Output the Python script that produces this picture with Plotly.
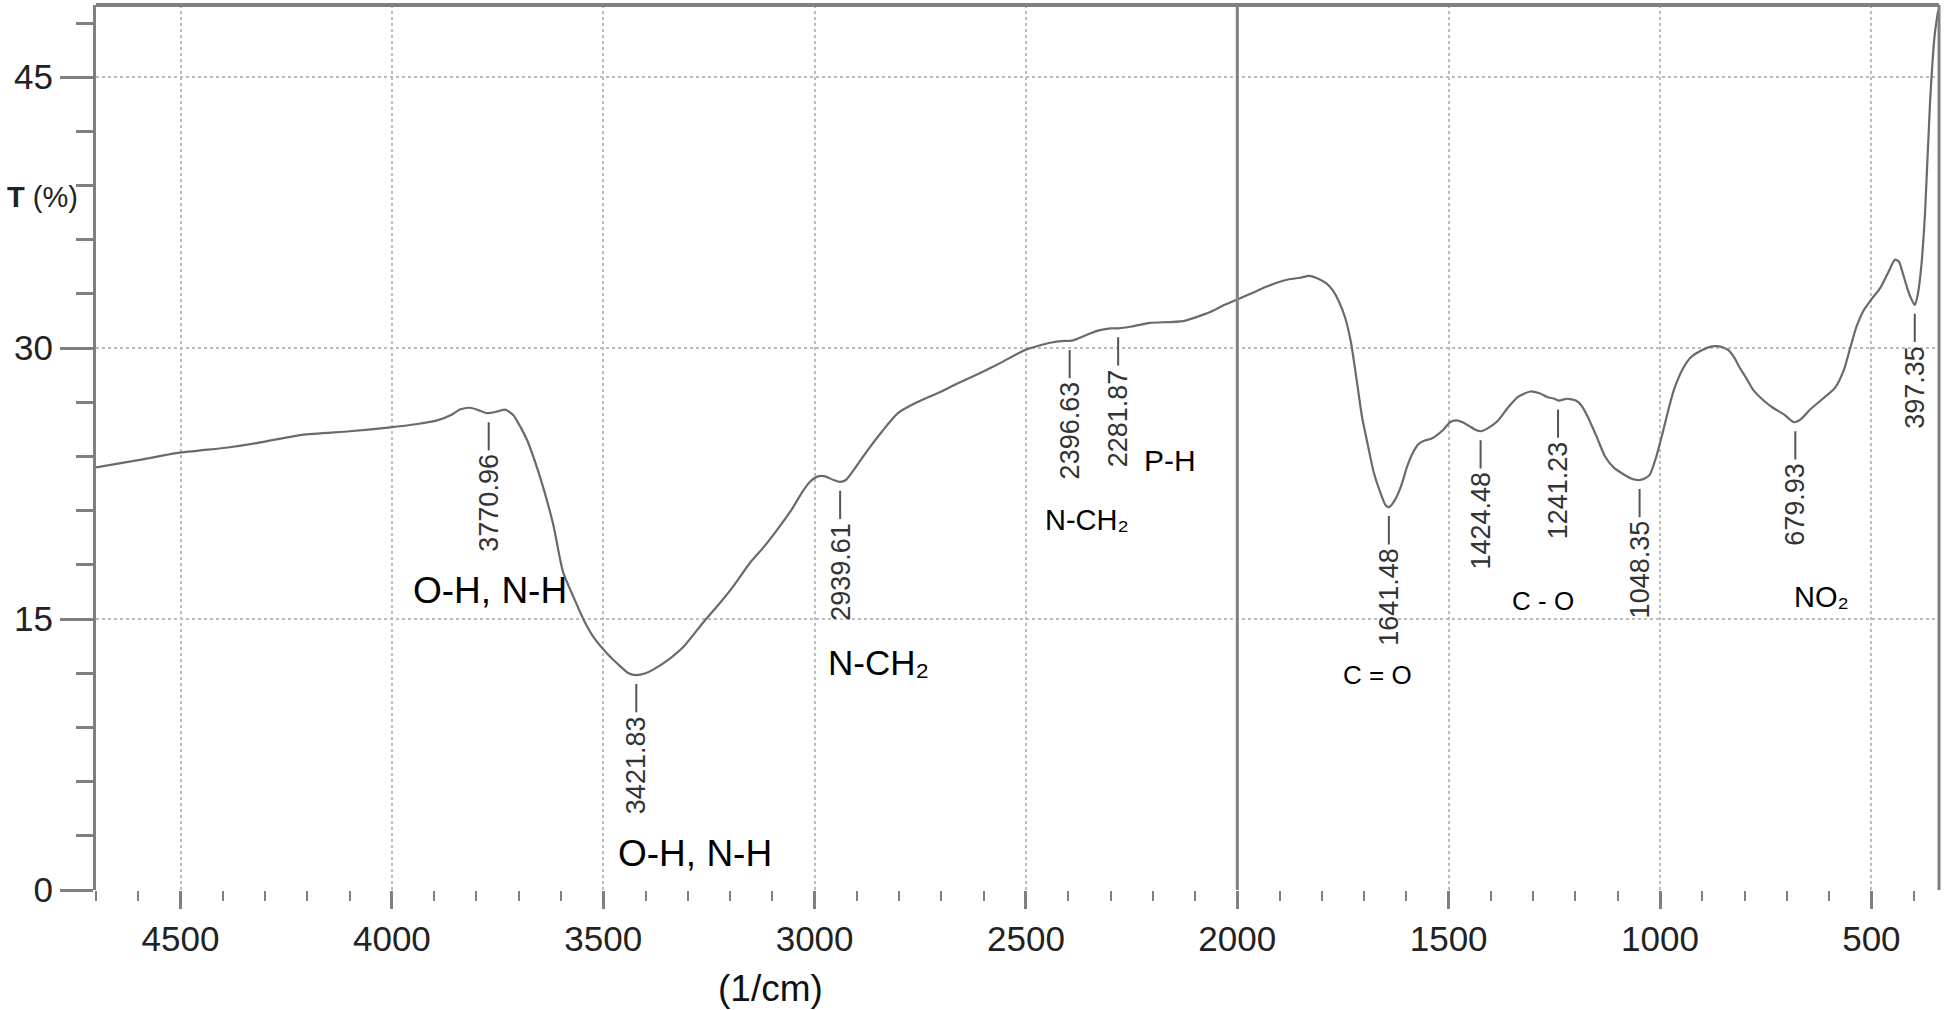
import plotly.graph_objects as go

# ---------------- data ----------------
wavenumber = [4700, 4600, 4506, 4388, 4331, 4213, 4100, 4009, 3940, 3893, 3860, 3839, 3815, 3799,
              3775, 3750, 3732, 3713, 3695, 3680, 3650, 3619, 3595, 3570, 3545, 3520, 3491, 3465,
              3440, 3422, 3400, 3382, 3349, 3309, 3264, 3220, 3193, 3150, 3120, 3090, 3056, 3030,
              3011, 2992, 2975, 2955, 2940, 2926, 2900, 2876, 2840, 2803, 2758, 2700, 2666, 2602,
              2559, 2502, 2443, 2410, 2397, 2380, 2350, 2325, 2300, 2282, 2250, 2207, 2128, 2064,
              2030, 2000, 1960, 1932, 1880, 1852, 1830, 1814, 1790, 1774, 1760, 1745, 1731, 1718,
              1705, 1690, 1677, 1660, 1649, 1641, 1627, 1612, 1599, 1585, 1571, 1555, 1540, 1512,
              1497, 1482, 1467, 1452, 1438, 1424, 1405, 1383, 1360, 1336, 1307, 1285, 1267, 1250,
              1239, 1220, 1199, 1185, 1171, 1150, 1130, 1110, 1092, 1070, 1054, 1048, 1035, 1024,
              1010, 995, 980, 967, 945, 927, 900, 877, 860, 839, 825, 811, 795, 780, 755, 733, 705,
              683, 665, 645, 615, 586, 565, 549, 535, 518, 500, 480, 462, 444, 435, 425, 412, 403,
              397, 390, 382, 373, 361, 350, 342]
transmittance = [23.4, 23.8, 24.2, 24.5, 24.7, 25.2, 25.4, 25.6, 25.8, 26.0, 26.3, 26.6, 26.7, 26.6,
                 26.4, 26.5, 26.6, 26.3, 25.6, 24.9, 22.9, 20.3, 17.6, 16.2, 14.9, 13.9, 13.1, 12.5,
                 12.0, 11.9, 12.0, 12.2, 12.7, 13.5, 14.8, 16.0, 16.8, 18.2, 19.0, 19.9, 21.0, 22.0,
                 22.6, 22.9, 22.9, 22.7, 22.6, 22.7, 23.5, 24.3, 25.4, 26.4, 27.0, 27.6, 28.0, 28.7,
                 29.2, 29.9, 30.3, 30.4, 30.4, 30.5, 30.8, 31.0, 31.1, 31.1, 31.2, 31.4, 31.5, 32.0,
                 32.4, 32.7, 33.1, 33.4, 33.8, 33.9, 34.0, 33.9, 33.6, 33.2, 32.6, 31.7, 30.3, 28.3,
                 26.2, 24.5, 23.1, 21.9, 21.3, 21.2, 21.6, 22.4, 23.4, 24.2, 24.7, 24.9, 25.0, 25.5,
                 25.9, 26.0, 25.9, 25.7, 25.5, 25.4, 25.6, 26.0, 26.7, 27.3, 27.6, 27.5, 27.3, 27.2,
                 27.1, 27.2, 27.1, 26.8, 26.2, 25.1, 24.0, 23.4, 23.1, 22.8, 22.7, 22.7, 22.8, 23.0,
                 23.9, 25.2, 26.6, 27.7, 28.9, 29.5, 29.9, 30.1, 30.1, 29.9, 29.5, 28.9, 28.3, 27.7,
                 27.1, 26.7, 26.3, 25.9, 26.1, 26.6, 27.2, 27.8, 28.8, 30.1, 31.2, 32.1, 32.7, 33.3,
                 34.1, 34.9, 34.8, 34.1, 33.1, 32.6, 32.4, 33.0, 34.5, 37.5, 43.7, 47.4, 48.7]

peak_wn = [3770.96, 3421.83, 2939.61, 2396.63, 2281.87, 1641.48, 1424.48, 1241.23, 1048.35, 679.93, 397.35]
peak_T = [26.4, 11.9, 22.6, 30.4, 31.1, 21.2, 25.4, 27.1, 22.7, 25.9, 32.4]
peak_text = ["3770.96", "3421.83", "2939.61", "2396.63", "2281.87", "1641.48", "1424.48",
             "1241.23", "1048.35", "679.93", "397.35"]

group_text = ["O-H, N-H", "O-H, N-H", "N-CH₂", "N-CH₂", "P-H", "C = O", "C - O", "NO₂"]
group_wn = [3768, 3283, 2848, 2356, 2159, 1669, 1277, 617]
group_T = [16.6, 2.0, 12.6, 20.5, 23.8, 11.9, 16.0, 16.2]
group_size = [37, 37, 35, 29, 30, 26, 26, 29]

x_tick_vals = [4500, 4000, 3500, 3000, 2500, 2000, 1500, 1000, 500]
y_tick_vals = [0, 15, 30, 45]
x_range = [4700, 340]
y_range = [0, 49]
cursor_wn = 2000

x_title = "(1/cm)"
y_title = "<b>T</b> (%)"

# ---------------- figure ----------------
AXIS_GRAY = "#808080"
GRID_GRAY = "#bdbdbd"
TICK_FONT = dict(family="Liberation Sans, Arial", size=35, color="#222222")
PEAK_SIZE = 27

fig = go.Figure()
fig.add_trace(go.Scatter(
    x=wavenumber, y=transmittance, mode="lines",
    line=dict(color="#6a6a6a", width=2.2, shape="spline", smoothing=0.6),
    showlegend=False, hoverinfo="x+y",
))

# peak markers: short line + rotated value (text centred below the line)
for wn, t, lab in zip(peak_wn, peak_T, peak_text):
    n_dig = sum(c.isdigit() for c in lab)
    text_len = PEAK_SIZE * (0.556 * n_dig + 0.278) + 4
    fig.add_annotation(
        x=wn, y=t, text=lab, textangle=-90,
        showarrow=True, arrowhead=0, arrowwidth=2, arrowcolor="#555555",
        ax=0, ay=39 + text_len / 2, standoff=9, startstandoff=2,
        font=dict(family="Liberation Sans, Arial", size=PEAK_SIZE, color="#333333"),
    )

# functional group labels
for txt, wn, t, sz in zip(group_text, group_wn, group_T, group_size):
    fig.add_annotation(
        x=wn, y=t, text=txt, showarrow=False,
        font=dict(family="Liberation Sans, Arial", size=sz, color="#000000"),
    )

# cursor line at 2000
fig.add_shape(type="line", xref="x", yref="paper", x0=cursor_wn, x1=cursor_wn, y0=0, y1=1,
              line=dict(color=AXIS_GRAY, width=3), layer="above")
# top & right frame
fig.add_shape(type="line", xref="paper", yref="paper", x0=0, x1=1, y0=1, y1=1,
              line=dict(color=AXIS_GRAY, width=4))
fig.add_shape(type="line", xref="paper", yref="paper", x0=1, x1=1, y0=0, y1=1,
              line=dict(color=AXIS_GRAY, width=3))

# axis titles
fig.add_annotation(x=0.366, y=-0.111, xref="paper", yref="paper", text=x_title, showarrow=False,
                   font=dict(family="Liberation Sans, Arial", size=37, color="#111111"),
                   xanchor="center", yanchor="middle")
fig.add_annotation(x=-0.029, y=0.783, xref="paper", yref="paper", text=y_title, showarrow=False,
                   font=dict(family="Liberation Sans, Arial", size=29, color="#222222"),
                   xanchor="center", yanchor="middle")

fig.update_xaxes(
    range=x_range, tickvals=x_tick_vals, ticks="outside", ticklen=18, tickwidth=3,
    tickcolor=AXIS_GRAY, tickfont=TICK_FONT, showline=False, zeroline=False,
    showgrid=True, gridcolor=GRID_GRAY, gridwidth=2, griddash="dot",
    minor=dict(dtick=100, tick0=0, ticks="outside", ticklen=10, tickwidth=2, tickcolor=AXIS_GRAY,
               showgrid=False),
    ticklabelstandoff=0,
)
fig.update_yaxes(
    range=y_range, tickvals=y_tick_vals, ticks="outside", ticklen=33, tickwidth=3,
    tickcolor=AXIS_GRAY, tickfont=TICK_FONT, showline=True, linecolor=AXIS_GRAY, linewidth=3,
    zeroline=False, showgrid=True, gridcolor=GRID_GRAY, gridwidth=2, griddash="dot",
    minor=dict(dtick=3, tick0=0, ticks="outside", ticklen=17, tickwidth=3, tickcolor=AXIS_GRAY,
               showgrid=False),
    ticklabelstandoff=0,
)

fig.update_layout(
    width=1946, height=1010,
    margin=dict(l=96, r=7, t=5, b=120),
    plot_bgcolor="white", paper_bgcolor="white",
    showlegend=False,
)

fig.write_html("out.html", config={"displayModeBar": False},
               post_script="document.body.style.margin='0';")
